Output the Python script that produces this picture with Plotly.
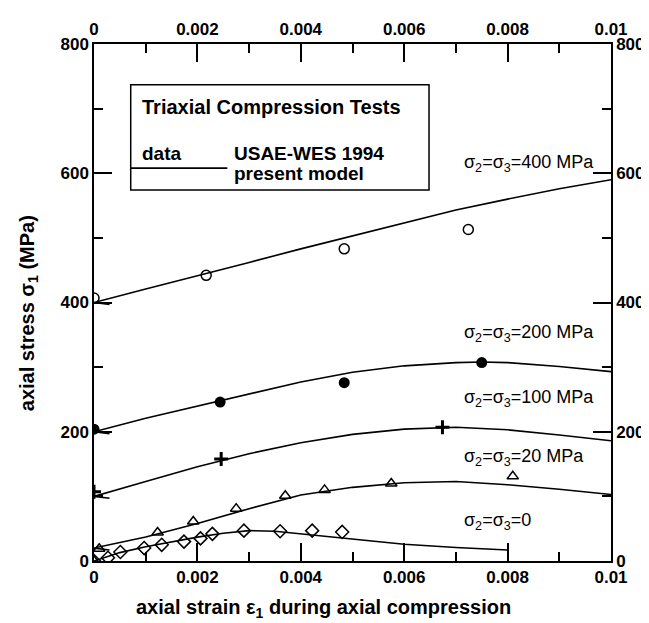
import plotly.graph_objects as go

# ---------------- data ----------------
x_ticks = [0, 0.002, 0.004, 0.006, 0.008, 0.01]
x_tick_labels = ["0", "0.002", "0.004", "0.006", "0.008", "0.01"]
x_minor = [0.001, 0.003, 0.005, 0.007, 0.009]
y_ticks = [0, 200, 400, 600, 800]
y_tick_labels = ["0", "200", "400", "600", "800"]
y_minor = [100, 300, 500, 700]

# test data (USAE-WES 1994)
d400_x = [0.0, 0.00217, 0.00484, 0.00724]
d400_y = [407, 442, 483, 513]
d200_x = [0.0, 0.00244, 0.00484, 0.0075]
d200_y = [204, 246, 276, 307]
d100_x = [0.0, 0.00246, 0.00674]
d100_y = [107, 158, 207]
d20_x = [0.0, 0.0001, 0.00123, 0.00192, 0.00275, 0.0037, 0.00446, 0.00575, 0.0081]
d20_y = [0, 19, 44, 61, 81, 101, 110, 120, 131]
d0_x = [0.0, 0.00027, 0.00051, 0.00097, 0.00131, 0.00174, 0.00206, 0.00229, 0.0029, 0.0036, 0.00422, 0.0048]
d0_y = [0, 5, 14, 20, 25, 30, 35, 42, 47, 46, 47, 45]

# present model
m400_x = [0.0003, 0, 0.001, 0.002, 0.003, 0.004, 0.005, 0.006, 0.007, 0.008, 0.009, 0.01]
m400_y = [397, 400, 421, 441, 462, 483, 503, 523, 543, 560, 576, 590]
m200_x = [0.0003, 0, 0.001, 0.002, 0.003, 0.004, 0.005, 0.006, 0.007, 0.0075, 0.008, 0.009, 0.01]
m200_y = [197, 200, 221, 240, 259, 277, 292, 302, 307, 308, 307, 301, 293]
m100_x = [0.0003, 0, 0.001, 0.002, 0.003, 0.004, 0.005, 0.006, 0.007, 0.008, 0.009, 0.01]
m100_y = [97, 100, 123, 146, 166, 183, 196, 204, 207, 203, 195, 186]
m20_x = [0.0003, 0, 0.001, 0.002, 0.003, 0.004, 0.005, 0.006, 0.007, 0.008, 0.009, 0.01]
m20_y = [17, 20, 37, 58, 81, 102, 114, 121, 123, 118, 111, 103]
m0_x = [0, 0.0005, 0.001, 0.0015, 0.002, 0.0025, 0.003, 0.0035, 0.004, 0.005, 0.006, 0.007, 0.008]
m0_y = [0, 13, 22, 30, 37, 43, 47, 46, 42, 33, 26, 21, 17]

labels = ["σ<sub>2</sub>=σ<sub>3</sub>=400 MPa", "σ<sub>2</sub>=σ<sub>3</sub>=200 MPa",
          "σ<sub>2</sub>=σ<sub>3</sub>=100 MPa", "σ<sub>2</sub>=σ<sub>3</sub>=20 MPa",
          "σ<sub>2</sub>=σ<sub>3</sub>=0"]
label_y = [615, 352, 252, 160, 61]

FONT = "Liberation Sans, Arial, Helvetica, sans-serif"

fig = go.Figure()

for mx, my in [(m400_x, m400_y), (m200_x, m200_y), (m100_x, m100_y), (m20_x, m20_y), (m0_x, m0_y)]:
    fig.add_trace(go.Scatter(x=mx, y=my, mode="lines", line=dict(color="black", width=1.6),
                             showlegend=False, hoverinfo="skip"))

mk_line = dict(color="black", width=1.5)
fig.add_trace(go.Scatter(x=d400_x, y=d400_y, mode="markers", showlegend=False,
                         marker=dict(symbol="circle-open", size=10, color="black", line=mk_line)))
fig.add_trace(go.Scatter(x=d200_x, y=d200_y, mode="markers", showlegend=False,
                         marker=dict(symbol="circle", size=11, color="black")))
fig.add_trace(go.Scatter(x=d100_x, y=d100_y, mode="markers", showlegend=False,
                         marker=dict(symbol="cross-thin", size=10, color="black",
                                     line=dict(color="black", width=3))))
fig.add_trace(go.Scatter(x=d20_x, y=d20_y, mode="markers", showlegend=False,
                         marker=dict(symbol="triangle-up-open", size=10, color="black", line=mk_line)))
fig.add_trace(go.Scatter(x=d0_x, y=d0_y, mode="markers", showlegend=False,
                         marker=dict(symbol="diamond-open", size=10, color="black", line=mk_line)))

# dummy trace for the top/right axes
fig.add_trace(go.Scatter(x=[None], y=[None], xaxis="x2", yaxis="y2", showlegend=False, hoverinfo="skip"))

tickfont = dict(family=FONT, size=17, color="black", weight="bold")
common_x = dict(range=[0, 0.01], tickmode="array", tickvals=x_ticks, ticktext=x_tick_labels,
                ticks="inside", ticklen=18, tickwidth=1.5, tickcolor="black",
                showline=True, linewidth=1.5, linecolor="black", showgrid=False, zeroline=False,
                tickfont=tickfont,
                minor=dict(tickmode="array", tickvals=x_minor, ticks="inside", ticklen=9,
                           tickwidth=1.5, tickcolor="black", showgrid=False))
common_y = dict(range=[0, 800], tickmode="array", tickvals=y_ticks, ticktext=y_tick_labels,
                ticks="inside", ticklen=18, tickwidth=1.5, tickcolor="black",
                showline=True, linewidth=1.5, linecolor="black", showgrid=False, zeroline=False,
                tickfont=tickfont,
                minor=dict(tickmode="array", tickvals=y_minor, ticks="inside", ticklen=9,
                           tickwidth=1.5, tickcolor="black", showgrid=False))

fig.update_layout(
    width=649, height=623,
    margin=dict(l=86, r=43, t=33, b=70),
    paper_bgcolor="white", plot_bgcolor="white",
    xaxis=dict(**common_x, side="bottom", anchor="y"),
    xaxis2=dict(**common_x, side="top", overlaying="x", anchor="y"),
    yaxis=dict(**common_y, side="left", anchor="x"),
    yaxis2=dict(**common_y, side="right", overlaying="y", anchor="x"),
    font=dict(family=FONT, color="black"),
)

# legend box
fig.add_shape(type="rect", xref="x", yref="y", x0=0.00071, x1=0.00648, y0=574, y1=737,
              line=dict(color="black", width=1.5))
fig.add_shape(type="line", xref="x", yref="y", x0=0.00071, x1=0.00258, y0=608, y1=608,
              line=dict(color="black", width=1.6))
bold = dict(family=FONT, size=19, color="black", weight="bold")
fig.add_annotation(x=0.00088, y=703, xref="x", yref="y", text="Triaxial Compression Tests",
                   showarrow=False, xanchor="left", yanchor="middle", font=dict(family=FONT, size=20, color="black", weight="bold"))
fig.add_annotation(x=0.00088, y=631, xref="x", yref="y", text="data",
                   showarrow=False, xanchor="left", yanchor="middle", font=bold)
fig.add_annotation(x=0.00267, y=631, xref="x", yref="y", text="USAE-WES 1994",
                   showarrow=False, xanchor="left", yanchor="middle", font=bold)
fig.add_annotation(x=0.00267, y=600, xref="x", yref="y", text="present model",
                   showarrow=False, xanchor="left", yanchor="middle", font=bold)

for t, ly in zip(labels, label_y):
    fig.add_annotation(x=0.00712, y=ly, xref="x", yref="y", text=t, showarrow=False,
                       xanchor="left", yanchor="middle",
                       font=dict(family=FONT, size=18, color="black"))

# axis titles
fig.add_annotation(x=0.444, y=-0.092, xref="paper", yref="paper",
                   text="axial strain ε<sub>1</sub> during axial compression",
                   showarrow=False, xanchor="center", yanchor="middle",
                   font=dict(family=FONT, size=20, color="black", weight="bold"))
fig.add_annotation(x=-0.127, y=0.48, xref="paper", yref="paper",
                   text="axial stress σ<sub>1</sub> (MPa)", textangle=-90,
                   showarrow=False, xanchor="center", yanchor="middle",
                   font=dict(family=FONT, size=20, color="black", weight="bold"))

fig.write_html("out.html")
